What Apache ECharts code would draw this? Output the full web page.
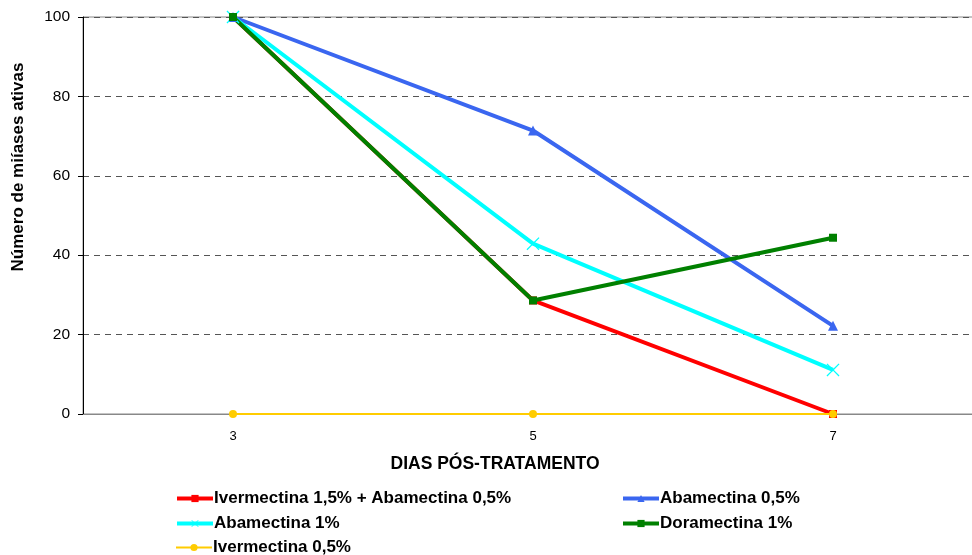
<!DOCTYPE html>
<html>
<head>
<meta charset="utf-8">
<script src="https://cdn.jsdelivr.net/npm/echarts@6/dist/echarts.min.js"></script>
<style>
  html, body { margin: 0; padding: 0; background: #fff; }
  #chart { width: 972px; height: 555px; }
</style>
</head>
<body>
<div id="chart"></div>
<script>
// Days after treatment (category axis)
const days = ['3', '5', '7'];

// Active myiasis count (%) per treatment
const ivermAbam = [100, 28.6, 0];
const abam05 = [100, 71.4, 22.2];
const abam1 = [100, 42.9, 11.1];
const dora1 = [100, 28.6, 44.4];
const iverm05 = [0, 0, 0];

const yTicks = { min: 0, max: 100, step: 20 };

const names = [
  'Ivermectina 1,5% + Abamectina 0,5%',
  'Abamectina 0,5%',
  'Abamectina 1%',
  'Doramectina 1%',
  'Ivermectina 0,5%'
];

const FONT = 'Liberation Sans, Arial, sans-serif';
const CROSS = 'path://M0,0.7L0.7,0L5,4.3L9.3,0L10,0.7L5.7,5L10,9.3L9.3,10L5,5.7L0.7,10L0,9.3L4.3,5Z';

const lineWidths = [4, 4, 4, 4, 2];

function lineSeries(i, data, color, symbol, size) {
  return {
    name: names[i],
    type: 'line',
    data: data,
    symbol: symbol,
    symbolSize: size,
    showSymbol: true,
    lineStyle: { color: color, width: lineWidths[i] },
    itemStyle: { color: color },
    emphasis: { disabled: true },
    animation: false
  };
}

// one legend entry per slot: [series index, left, top]
const legendSlots = [
  [0, 175, 490],
  [1, 621, 490],
  [2, 175, 515],
  [3, 621, 515],
  [4, 175, 539]
];

const chart = echarts.init(document.getElementById('chart'), null, { renderer: 'canvas' });

chart.setOption({
  backgroundColor: '#fff',
  textStyle: { fontFamily: FONT },
  grid: {
    left: 83, top: 17, width: 900, height: 397,
    outerBoundsMode: 'none',
    containLabel: false,
    show: true, borderColor: '#888', borderWidth: 1, backgroundColor: 'transparent'
  },
  xAxis: {
    type: 'category',
    data: days,
    boundaryGap: true,
    axisLine: { show: true, lineStyle: { color: '#888', width: 1 } },
    axisTick: { show: false },
    axisLabel: { color: '#000', fontSize: 13, margin: 16, fontFamily: FONT },
    splitLine: { show: false }
  },
  yAxis: {
    type: 'value',
    min: yTicks.min,
    max: yTicks.max,
    interval: yTicks.step,
    axisLine: { show: true, lineStyle: { color: '#000', width: 1 } },
    axisTick: { show: true, length: 5, lineStyle: { color: '#000' } },
    axisLabel: { color: '#000', fontSize: 15.5, margin: 13, fontFamily: FONT },
    splitLine: { show: true, lineStyle: { color: '#555', type: [6, 5], width: 1 } }
  },
  graphic: [
    {
      type: 'text',
      x: 18, y: 167, rotation: Math.PI / 2,
      style: {
        text: 'Número de miíases ativas',
        font: 'bold 17px ' + FONT,
        fill: '#000',
        align: 'center',
        verticalAlign: 'middle'
      }
    },
    {
      type: 'text',
      x: 495, y: 464,
      style: {
        text: 'DIAS PÓS-TRATAMENTO',
        font: 'bold 17.5px ' + FONT,
        fill: '#000',
        align: 'center',
        verticalAlign: 'middle'
      }
    }
  ],
  legend: legendSlots.map(function (s) {
    return {
      left: s[1],
      top: s[2],
      data: [names[s[0]]],
      itemWidth: 36,
      itemHeight: 9,
      itemGap: 0,
      padding: 0,
      selectedMode: false,
      lineStyle: { width: lineWidths[s[0]] },
      textStyle: { fontFamily: FONT, fontWeight: 'bold', fontSize: 17, color: '#000', padding: [0, 0, 0, -4] }
    };
  }),
  series: [
    lineSeries(0, ivermAbam, '#FF0000', 'rect', 8),
    lineSeries(1, abam05, '#3A66F0', 'triangle', 10),
    lineSeries(2, abam1, '#00FFFF', CROSS, 13),
    lineSeries(3, dora1, '#008000', 'rect', 8),
    lineSeries(4, iverm05, '#FFCC00', 'circle', 8)
  ]
});
</script>
</body>
</html>
